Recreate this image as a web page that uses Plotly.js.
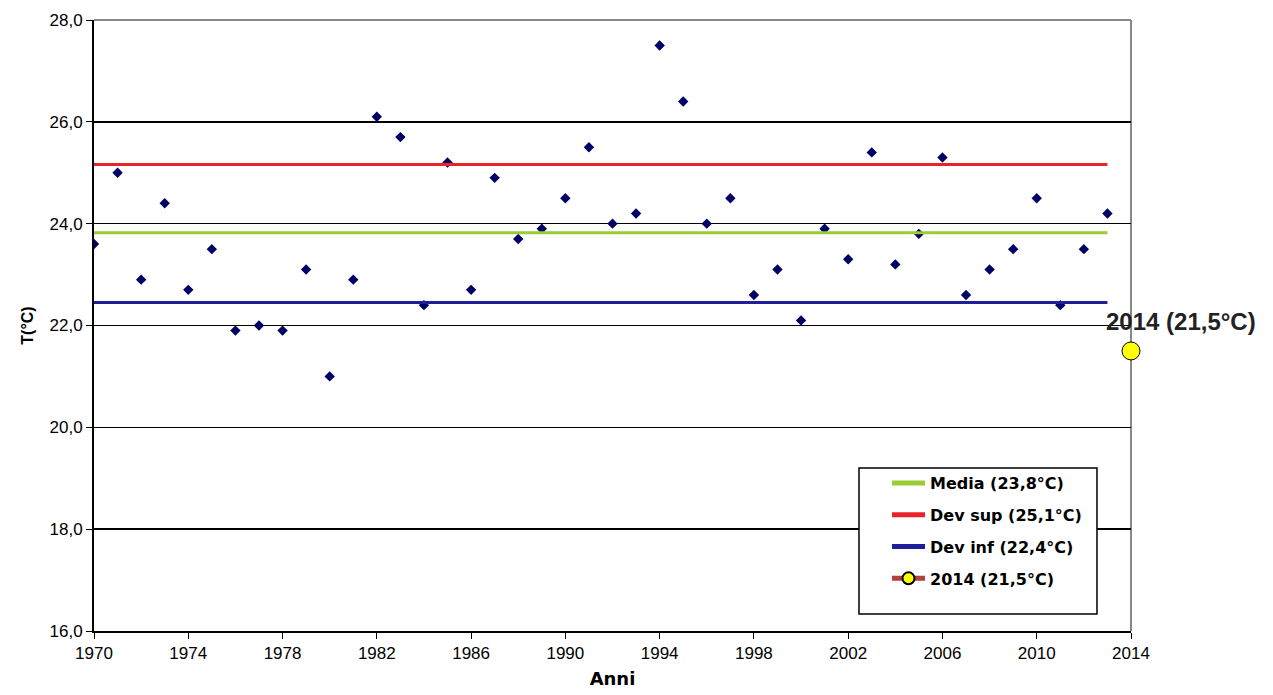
<!DOCTYPE html>
<html>
<head>
<meta charset="utf-8">
<script src="https://cdn.plot.ly/plotly-3.0.1.min.js"></script>
<style>html,body{margin:0;padding:0;background:#fff;}#chart{width:1273px;height:695px;}</style>
</head>
<body>
<div id="chart"></div>
<script>
// Data
const years = [1970,1971,1972,1973,1974,1975,1976,1977,1978,1979,1980,1981,1982,1983,1984,1985,1986,1987,1988,1989,1990,1991,1992,1993,1994,1995,1996,1997,1998,1999,2000,2001,2002,2003,2004,2005,2006,2007,2008,2009,2010,2011,2012,2013];
const temps = [23.6,25.0,22.9,24.4,22.7,23.5,21.9,22.0,21.9,23.1,21.0,22.9,26.1,25.7,22.4,25.2,22.7,24.9,23.7,23.9,24.5,25.5,24.0,24.2,27.5,26.4,24.0,24.5,22.6,23.1,22.1,23.9,23.3,25.4,23.2,23.8,25.3,22.6,23.1,23.5,24.5,22.4,23.5,24.2];
const mediaValue = 23.82;
const devSupValue = 25.16;
const devInfValue = 22.45;
const year2014 = [2014];
const temp2014 = [21.5];
const legendNames = ["Media (23,8°C)", "Dev sup (25,1°C)", "Dev inf (22,4°C)", "2014 (21,5°C)"];
const label2014 = "2014 (21,5°C)";
const xTicks = [1970,1974,1978,1982,1986,1990,1994,1998,2002,2006,2010,2014];
const yTicks = [16,18,20,22,24,26,28];

const lineX = [years[0], years[years.length-1]];
const traces = [
  {x: years, y: temps, type:'scatter', mode:'markers', showlegend:false,
   marker:{symbol:'diamond', size:8, color:'#000066'}},
  {x: lineX, y: [mediaValue, mediaValue], type:'scatter', mode:'lines', name: legendNames[0], legendgroup:'a',
   line:{color:'#99CC33', width:3}},
  {x: lineX, y: [devSupValue, devSupValue], type:'scatter', mode:'lines', name: legendNames[1], legendgroup:'b',
   line:{color:'#E8232A', width:3}},
  {x: lineX, y: [devInfValue, devInfValue], type:'scatter', mode:'lines', name: legendNames[2], legendgroup:'c',
   line:{color:'#1F1F99', width:3}},
  {x: year2014, y: temp2014, type:'scatter', mode:'lines+markers', name: legendNames[3], legendgroup:'d',
   line:{color:'#B0413E', width:1},
   marker:{symbol:'circle', size:18, color:'#FFFF00', line:{color:'#000000', width:1}}, cliponaxis:false}
];

const tickFont = {family:'Liberation Sans, Arial, sans-serif', size:17, color:'#000'};
const layout = {
  width:1273, height:695,
  margin:{l:94, r:142, t:20, b:64},
  paper_bgcolor:'#ffffff', plot_bgcolor:'#ffffff',
  separators: ',.',
  font:{family:'Liberation Sans, Arial, sans-serif', size:16, color:'#000'},
  showlegend:true,
  legend:{x:0.7647, y:0.270, xanchor:'left', yanchor:'top', bgcolor:'rgba(0,0,0,0)',
    borderwidth:0, traceorder:'grouped', tracegroupgap:8, itemsizing:'constant', itemwidth:33,
    font:{family:'DejaVu Sans, Arial, sans-serif', size:16, color:'#000', weight:'bold'}},
  xaxis:{range:[1970,2014], tickvals:xTicks, ticktext:xTicks.map(String), ticks:'outside', ticklen:6,
    tickfont:tickFont,
    tickcolor:'#000', showline:true, linecolor:'#000', linewidth:2, showgrid:false, zeroline:false,
    title:{text:'<b>Anni</b>', font:{size:18, family:'DejaVu Sans, Arial, sans-serif'}, standoff:10}},
  yaxis:{range:[16,28], tickvals:yTicks, tickformat:'.1f', ticks:'outside', ticklen:6,
    tickfont:tickFont,
    tickcolor:'#000', showline:true, linecolor:'#000', linewidth:2, showgrid:true, gridcolor:'#000', gridwidth:1.5,
    zeroline:false, title:{text:'<b>T(°C)</b>', font:{size:16}, standoff:12}},
  shapes:[
    {type:'line', xref:'paper', yref:'paper', x0:0, x1:1, y0:1, y1:1, line:{color:'#888', width:2}, layer:'above'},
    {type:'line', xref:'paper', yref:'paper', x0:1, x1:1, y0:0, y1:1, line:{color:'#888', width:2}, layer:'below'},
    {type:'rect', xref:'paper', yref:'paper', x0:0.7377, x1:0.9672, y0:0.0278, y1:0.2668,
     line:{color:'#000', width:1.5}, fillcolor:'#ffffff', layer:'above'}
  ],
  annotations:[
    {x: year2014[0], y: temp2014[0], xref:'x', yref:'y', text:'<b>'+label2014+'</b>', showarrow:false,
     xshift:50, yshift:29, font:{size:24, color:'#222', family:'Liberation Sans, Arial, sans-serif'}}
  ]
};

Plotly.newPlot('chart', traces, layout, {staticPlot:true, displayModeBar:false});
</script>
</body>
</html>
